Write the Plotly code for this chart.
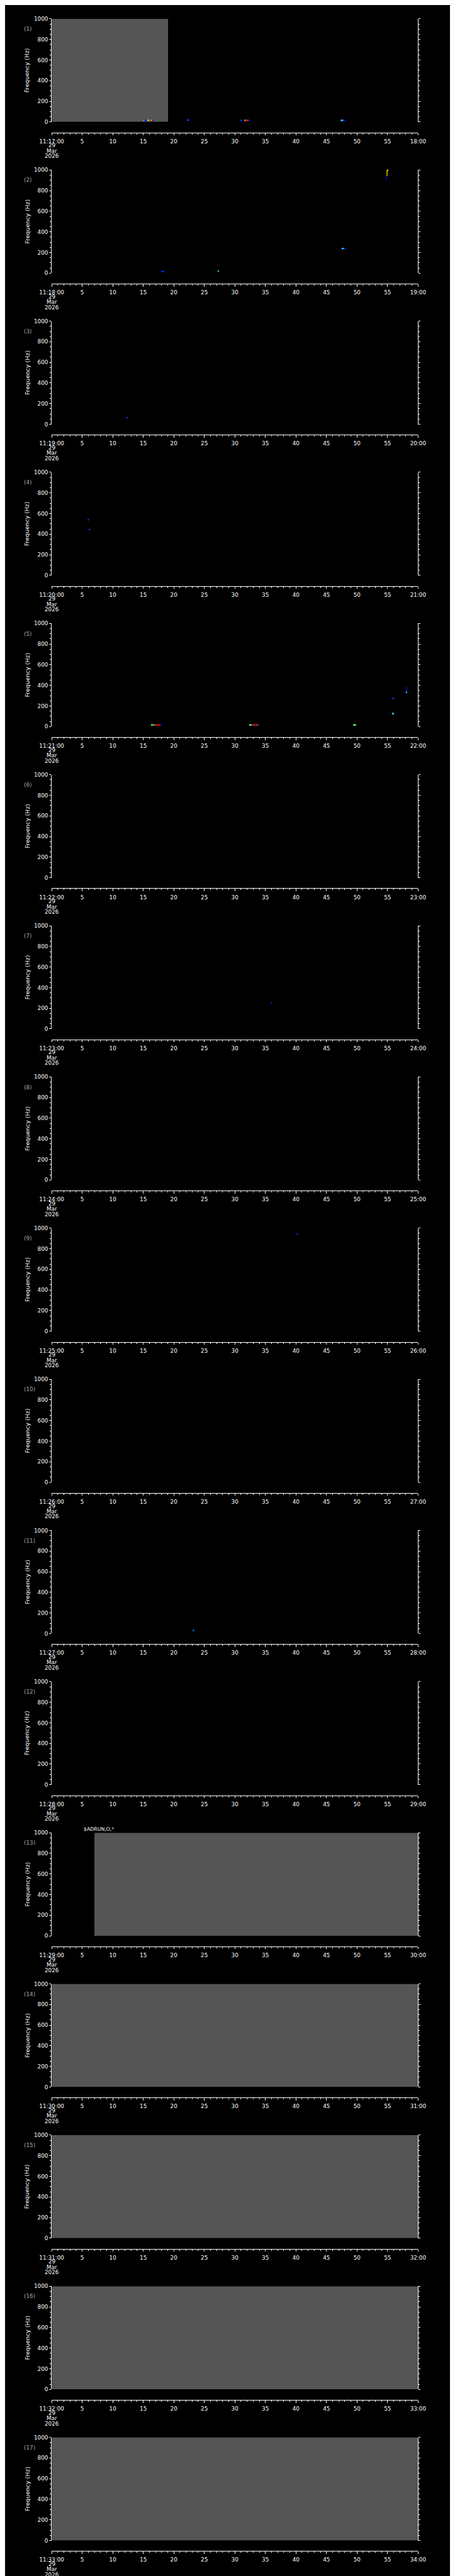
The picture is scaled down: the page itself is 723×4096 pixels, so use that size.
import plotly.graph_objects as go
from plotly.colors import sample_colorscale

# ---------------- reference geometry (reference pixels) ----------------
W_REF, H_REF = 1024, 5802
W, H = 723, 4096
PLOT_LEFT, PLOT_RIGHT = 80.3, 944.3
FIRST_TOP, FIRST_BOTTOM = 24.0, 256.8
PITCH = 341.3
XAXIS_GAP = 23.9

# ---------------- data ----------------
N_PANELS = 17
START_HOUR = 11
START_MINUTE = 17
DATE_LINES = ["29", "Mar", "2026"]
X_RANGE = [0, 60]
Y_RANGE = [0, 1000]
X_TICK_VALS = [0, 5, 10, 15, 20, 25, 30, 35, 40, 45, 50, 55, 60]
Y_TICK_VALS = [0, 200, 400, 600, 800, 1000]

# gray "no data" blocks
GRAY_PANEL = [1, 13, 14, 15, 16, 17]
GRAY_T0 = [0.0, 7.0, 0.0, 0.0, 0.0, 0.0]
GRAY_T1 = [19.06, 60.0, 60.0, 60.0, 60.0, 60.0]

# spectrogram cells: panel, time (s), frequency (Hz), colour value (0 blue .. 1 red)
CELL_PANEL = [1, 1, 1,
              1, 1, 1, 1, 1, 1,
              1, 1,
              1, 1,
              1, 1, 1, 1, 1, 1,
              1, 1, 1, 1, 1,
              2, 2, 2,
              2,
              2, 2, 2, 2,
              2,
              3,
              4, 4,
              4, 4, 4, 4, 4, 4, 4, 4, 4, 4, 4, 4,
              5, 5, 5, 5, 5, 5, 5, 5,
              5, 5, 5, 5, 5, 5, 5, 5,
              5, 5, 5,
              5, 5,
              5, 5,
              5,
              7, 9, 11]
CELL_T = [15.12, 15.27, 15.40,
          15.80, 15.95, 16.10, 16.25, 16.40, 16.55,
          22.25, 22.40,
          31.00, 31.15,
          31.65, 31.80, 31.95, 32.10, 32.25, 32.35,
          47.45, 47.60, 47.75, 47.90, 48.00,
          18.00, 18.15, 18.30,
          27.28,
          47.60, 47.75, 47.90, 48.05,
          55.02,
          12.40,
          6.00, 6.20,
          60.15, 60.30, 60.45, 60.60, 60.75, 60.95, 61.10, 61.25, 61.40, 61.55, 61.70, 61.80,
          16.40, 16.60, 16.80, 17.00, 17.20, 17.40, 17.60, 17.85,
          32.45, 32.65, 32.85, 33.05, 33.25, 33.45, 33.65, 33.85,
          49.45, 49.60, 49.75,
          55.85, 56.00,
          55.85, 55.95,
          58.10,
          36.00, 40.20, 23.20]
CELL_F = [15, 15, 15,
          15, 15, 15, 15, 15, 15,
          18, 18,
          15, 15,
          15, 15, 15, 15, 15, 15,
          15, 15, 15, 15, 15,
          15, 15, 15,
          20,
          238, 238, 238, 238,
          997,
          64,
          540, 446,
          15, 15, 15, 15, 15, 15, 15, 15, 15, 15, 15, 15,
          16, 16, 16, 16, 16, 16, 16, 16,
          16, 16, 16, 16, 16, 16, 16, 16,
          16, 16, 16,
          273, 273,
          128, 122,
          332,
          253, 944, 30]
CELL_V = [0.35, 0.05, 0.00,
          0.60, 0.55, 1.00, 0.95, 0.75, 0.00,
          0.15, 0.05,
          0.10, 0.00,
          0.75, 0.95, 1.00, 0.95, 0.10, 0.00,
          0.45, 0.40, 0.15, 0.05, 0.00,
          0.05, 0.00, 0.10,
          0.45,
          0.33, 0.38, 0.10, 0.00,
          0.67,
          0.10,
          0.10, 0.10,
          0.40, 0.45, 0.35, 0.10, 0.00, 0.20, 1.00, 1.00, 0.90, 0.70, 0.05, 0.00,
          0.67, 0.40, 0.20, 0.95, 1.00, 1.00, 0.95, 0.05,
          0.67, 0.40, 0.10, 0.95, 1.00, 1.00, 0.90, 0.05,
          0.45, 0.60, 0.55,
          0.05, 0.05,
          0.35, 0.30,
          0.33,
          0.05, 0.05, 0.20]

# vertical streaks: panel, time, f from, f to, colour value
STREAK_PANEL = [2, 2, 5]
STREAK_T = [54.92, 54.80, 58.10]
STREAK_F0 = [940, 900, 330]
STREAK_F1 = [1000, 940, 385]
STREAK_V = [0.67, 0.00, 0.05]

# small two-line value labels under the plots
LABEL_PANEL = [1, 1, 1, 1, 1, 2, 4, 4, 5]
LABEL_T = [15.25, 16.20, 31.05, 32.00, 47.70, 18.10, 60.42, 61.42, 49.62]
LABEL_TOP = ["4", "4", "4", "4", "4", "4", "4", "4", "4"]
LABEL_BOT = ["2.8", "0.9", "2.4", "0.9", "1.5", "2.8", "0.9", "0.9", "1.3"]
LABEL_F_TOP = -25
LABEL_F_BOT = -66

HEADER_TEXT = "$ADRUN,O,*"
HEADER_PANEL = 13

COLORSCALE = [[0.0, "#0000ff"], [0.33, "#00ffff"], [0.5, "#40ff80"],
              [0.67, "#ffff00"], [0.85, "#ff8000"], [1.0, "#ff0000"]]

FONT = "DejaVu Sans"
FS = 8.8
FS_TITLE = 9.4
GRAY_FILL = "#555555"
LABEL_GRAY = "#a8a8a8"


def px(x):
    return x / W_REF


def py(y):
    return 1 - y / H_REF


fig = go.Figure()
annotations = []
layout_axes = {}

for k in range(N_PANELS):
    i = k + 1
    sfx = "" if i == 1 else str(i)
    xr, yr = f"x{sfx}", f"y{sfx}"
    top = FIRST_TOP + k * PITCH
    bot = FIRST_BOTTOM + k * PITCH
    xline = bot + XAXIS_GAP
    minute = START_MINUTE + k

    # invisible placeholder so that every panel owns its subplot
    fig.add_trace(go.Scatter(x=X_RANGE, y=Y_RANGE, mode="markers",
                             marker=dict(opacity=0, size=1), hoverinfo="skip",
                             showlegend=False, xaxis=xr, yaxis=yr))

    # gray blocks
    for p, t0, t1 in zip(GRAY_PANEL, GRAY_T0, GRAY_T1):
        if p == i:
            fig.add_trace(go.Scatter(x=[t0, t1, t1, t0, t0], y=[0, 0, 1000, 1000, 0],
                                     mode="lines", fill="toself", fillcolor=GRAY_FILL,
                                     line=dict(width=0, color=GRAY_FILL),
                                     hoverinfo="skip", showlegend=False,
                                     xaxis=xr, yaxis=yr))
    # streaks
    for p, t, f0, f1, v in zip(STREAK_PANEL, STREAK_T, STREAK_F0, STREAK_F1, STREAK_V):
        if p == i:
            c = sample_colorscale(COLORSCALE, [v])[0]
            fig.add_trace(go.Scatter(x=[t, t], y=[f0, f1], mode="lines",
                                     line=dict(color=c, width=1.2),
                                     hoverinfo="skip", showlegend=False,
                                     xaxis=xr, yaxis=yr))
    # cells
    cx = [t for p, t in zip(CELL_PANEL, CELL_T) if p == i]
    cy = [f for p, f in zip(CELL_PANEL, CELL_F) if p == i]
    cv = [v for p, v in zip(CELL_PANEL, CELL_V) if p == i]
    if cx:
        fig.add_trace(go.Scatter(x=cx, y=cy, mode="markers", cliponaxis=False,
                                 marker=dict(symbol="square", size=2.1, color=cv,
                                             colorscale=COLORSCALE, cmin=0, cmax=1,
                                             line=dict(width=0)),
                                 hoverinfo="skip", showlegend=False,
                                 xaxis=xr, yaxis=yr))
    # labels
    lx = [t for p, t in zip(LABEL_PANEL, LABEL_T) if p == i]
    if lx:
        lt = [s for p, s in zip(LABEL_PANEL, LABEL_TOP) if p == i]
        lb = [s for p, s in zip(LABEL_PANEL, LABEL_BOT) if p == i]
        fig.add_trace(go.Scatter(x=lx + lx, y=[LABEL_F_TOP] * len(lx) + [LABEL_F_BOT] * len(lx),
                                 text=lt + lb, mode="text", cliponaxis=False,
                                 textfont=dict(family=FONT, size=6.4, color="white"),
                                 textposition="middle center",
                                 hoverinfo="skip", showlegend=False,
                                 xaxis=xr, yaxis=yr))

    ticktext = ([f"{START_HOUR}:{minute:02d}:00"] + [str(v) for v in X_TICK_VALS[1:-1]]
                + [f"{minute + 1:02d}:00"])
    layout_axes[f"xaxis{sfx}"] = dict(
        domain=[px(PLOT_LEFT), px(PLOT_RIGHT)], range=X_RANGE, anchor="free",
        position=py(xline), showline=True, linecolor="white", linewidth=1,
        ticks="outside", ticklen=3.5, tickwidth=1, tickcolor="white",
        tickmode="array", tickvals=X_TICK_VALS, ticktext=ticktext, tickangle=0,
        ticklabelstandoff=2,
        tickfont=dict(family=FONT, size=FS, color="white"),
        minor=dict(tickmode="linear", tick0=0, dtick=1, ticklen=2, tickwidth=1,
                   tickcolor="white", ticks="outside"),
        showgrid=False, zeroline=False, fixedrange=True)
    layout_axes[f"yaxis{sfx}"] = dict(
        domain=[py(bot), py(top)], range=Y_RANGE, anchor=xr,
        showline=True, linecolor="white", linewidth=1, mirror="ticks",
        ticks="outside", ticklen=3, tickwidth=1, tickcolor="white",
        tickmode="array", tickvals=Y_TICK_VALS,
        tickfont=dict(family=FONT, size=FS, color="white"),
        minor=dict(tickmode="linear", tick0=0, dtick=50, ticklen=2, tickwidth=1,
                   tickcolor="white", ticks="outside"),
        showgrid=False, zeroline=False, fixedrange=True)

    # y title
    annotations.append(dict(text="Frequency (Hz)", textangle=-90, xref="paper", yref="paper",
                            x=px(22.7), y=py((top + bot) / 2), xanchor="center", yanchor="middle",
                            showarrow=False, font=dict(family=FONT, size=FS_TITLE, color="white")))
    # panel number
    annotations.append(dict(text=f"({i})", xref="paper", yref="paper",
                            x=px(11.5), y=py(top + 23), xanchor="left", yanchor="middle",
                            showarrow=False, font=dict(family=FONT, size=FS, color=LABEL_GRAY)))
    # date lines under the first tick
    for j, line in enumerate(DATE_LINES):
        annotations.append(dict(text=line, xref=xr, yref="paper", x=0,
                                y=py(xline + 29.3 + 12 * j), xanchor="center", yanchor="middle",
                                showarrow=False, font=dict(family=FONT, size=FS, color="white")))

    if i == HEADER_PANEL:
        annotations.append(dict(text=HEADER_TEXT, xref="paper", yref="paper",
                                x=px(153), y=py(top - 7.6), xanchor="left", yanchor="middle",
                                showarrow=False, font=dict(family=FONT, size=7.8, color="white")))

fig.update_layout(
    width=W, height=H, margin=dict(l=0, r=0, t=0, b=0),
    paper_bgcolor="black", plot_bgcolor="black",
    showlegend=False, annotations=annotations, **layout_axes)

fig.write_html("out.html")
